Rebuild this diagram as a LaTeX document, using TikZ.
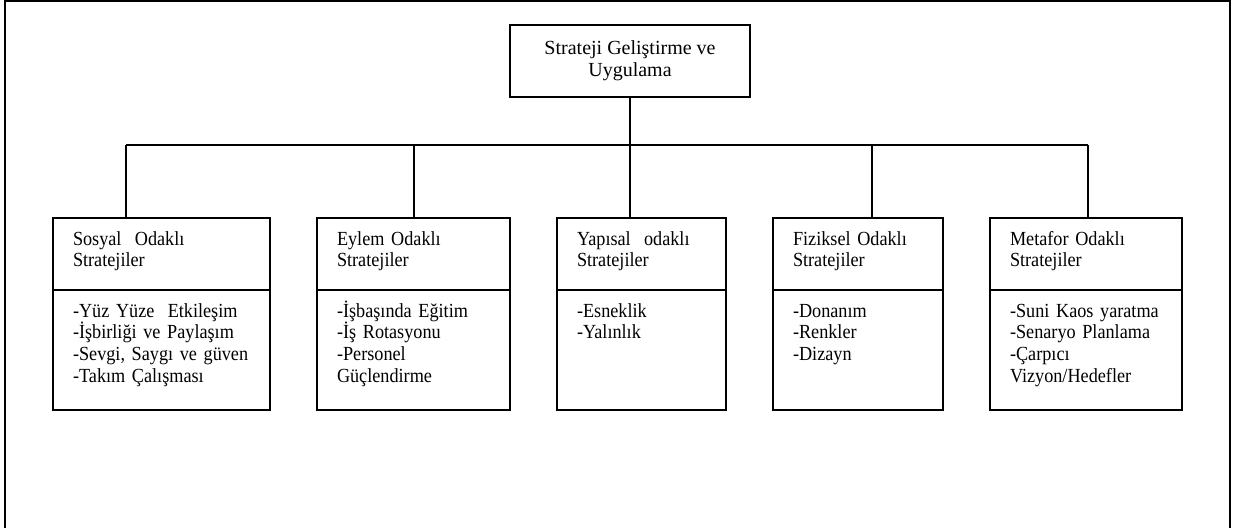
\documentclass[tikz,border=0pt]{standalone}
\usepackage{fontspec}
\setmainfont{Liberation Serif}
\newfontfamily\dar{Liberation Serif}[FakeStretch=0.91]
\usetikzlibrary{positioning}

\tikzset{
	kutu/.style={draw, line width=1pt, outer sep=0pt, inner xsep=12pt, inner ysep=4pt, align=left, text height=12.2pt, font=\dar\fontsize{12}{13}\selectfont},
	baslik/.style={kutu, text depth=23pt},
	liste/.style={kutu, text depth=51.8pt},
	bag/.style={line width=0.9pt}
}

\begin{document}
\begin{tikzpicture}[x=0.6pt, y=-0.6pt, font=\fontsize{12}{13}\selectfont]
		\useasboundingbox (0,0) rectangle (1237,528);
		\draw [line width=1.2pt](5,528) -- (5,1) -- (1230,1) -- (1230,528);

		\node (0)[draw, line width=1pt, align=center, minimum width=144pt, minimum height=43.2pt] at (630,61) {Strateji Geliştirme ve\\Uygulama};

		\node (1)[baslik, text width=106.2pt, anchor=north west] at (53,218) {Sosyal\ \ Odaklı\\Stratejiler};
		\node (2)[baslik, text width=91.8pt, right=28.2pt of 1] {Eylem Odaklı\\Stratejiler};
		\node (3)[baslik, text width=77.4pt, right=28.2pt of 2] {Yapısal\ \ odaklı\\Stratejiler};
		\node (4)[baslik, text width=78pt, right=28.2pt of 3] {Fiziksel Odaklı\\Stratejiler};
		\node (5)[baslik, text width=91.2pt, right=28.2pt of 4] {Metafor Odaklı\\Stratejiler};

		\node (6)[liste, text width=106.2pt, below=0pt of 1] {-Yüz Yüze\ \ Etkileşim\\-İşbirliği ve Paylaşım\\-Sevgi, Saygı ve güven\\-Takım Çalışması};
		\node (7)[liste, text width=91.8pt, below=0pt of 2] {-İşbaşında Eğitim\\-İş Rotasyonu\\-Personel\\Güçlendirme};
		\node (8)[liste, text width=77.4pt, below=0pt of 3] {-Esneklik\\-Yalınlık};
		\node (9)[liste, text width=78pt, below=0pt of 4] {-Donanım\\-Renkler\\-Dizayn};
		\node (10)[liste, text width=91.2pt, below=0pt of 5] {-Suni Kaos yaratma\\-Senaryo Planlama\\-Çarpıcı\\Vizyon/Hedefler};

		\coordinate (d1) at (126,145);
		\coordinate (d2) at (414,145);
		\coordinate (d4) at (872,145);
		\coordinate (d5) at (1088,145);

		\draw [bag](d1) -- (d5);
		\draw [bag](0) -- (0 |- 3.north);
		\draw [bag](d1) -- (d1 |- 1.north);
		\draw [bag](d2) -- (d2 |- 2.north);
		\draw [bag](d4) -- (d4 |- 4.north);
		\draw [bag](d5) -- (d5 |- 5.north);
	\end{tikzpicture}
\end{document}
